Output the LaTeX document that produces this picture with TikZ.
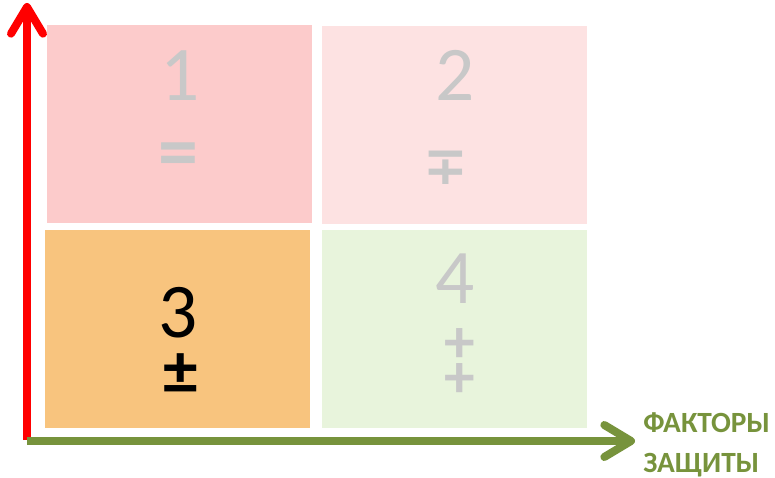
\documentclass[tikz,border=0pt]{standalone}
\usepackage{fontspec}
\setmainfont{Carlito}
\newfontfamily\symfont{DejaVu Sans}
\usepackage{xcolor}
\usetikzlibrary{arrows.meta, positioning}
\definecolor{fieldred}{HTML}{FCCBCB}
\definecolor{fieldpink}{HTML}{FDE2E2}
\definecolor{fieldorange}{HTML}{F8C47E}
\definecolor{fieldgreen}{HTML}{E8F4DC}
\definecolor{axisgreen}{HTML}{77933C}
\definecolor{fadegray}{HTML}{C8C8C8}
\tikzstyle{field} = [draw=none, minimum width=198.75pt, minimum height=148.5pt, inner sep=0pt]
\tikzstyle{num} = [anchor=base, inner sep=0pt, font=\fontsize{58}{60}\selectfont]
\tikzstyle{sign} = [inner sep=0pt, align=center, font=\bfseries\fontsize{52}{24}\selectfont]
\tikzstyle{axis} = [line width=6pt, -{Straight Barb[length=20pt, width=24pt, round]}]

\begin{document}
\begin{tikzpicture}[x=0.75pt, y=-0.75pt]
    \useasboundingbox (0,0) rectangle (775,478);

    % Quadrants
    \node[field, fill=fieldred] (q1) at (179.5,124) {};
    \node[field, fill=fieldpink] (q2) at (454.5,125) {};
    \node[field, fill=fieldorange] (q3) at (177.5,329) {};
    \node[field, fill=fieldgreen] (q4) at (454.5,329) {};

    % Numbers
    \node[num, text=fadegray] (n1) at (180,100) {1};
    \node[num, text=fadegray] (n2) at (455,100) {2};
    \node[num] (n3) at (178,337) {3};
    \node[num, text=fadegray] (n4) at (455,303) {4};

    % Signs
    \node[sign, text=fadegray, font=\bfseries\fontsize{60}{24}\selectfont] (s1) at (178,161) {=};
    \node[sign, text=fadegray, font=\symfont\bfseries\fontsize{40}{24}\selectfont] (s2) at (446,168) {∓};
    \node[sign] (s3) at (181,374) {±};
    \node[sign, text=fadegray, font=\bfseries\fontsize{46}{24}\selectfont] (s4) at (460,363) {+\\+};

    % Axes
    \coordinate (origin) at (27,441);
    \coordinate (ytip) at (27,3);
    \coordinate (xtip) at (635,441);
    \draw[axis, red] (27,440) -- (ytip);
    \draw[axis, axisgreen] (origin) -- (xtip);

    \node[anchor=north west, inner sep=0pt, align=left, text=axisgreen,
          font=\bfseries\fontsize{22}{30}\selectfont] (xlabel) at (643,412) {ФАКТОРЫ\\ЗАЩИТЫ};
\end{tikzpicture}
\end{document}
